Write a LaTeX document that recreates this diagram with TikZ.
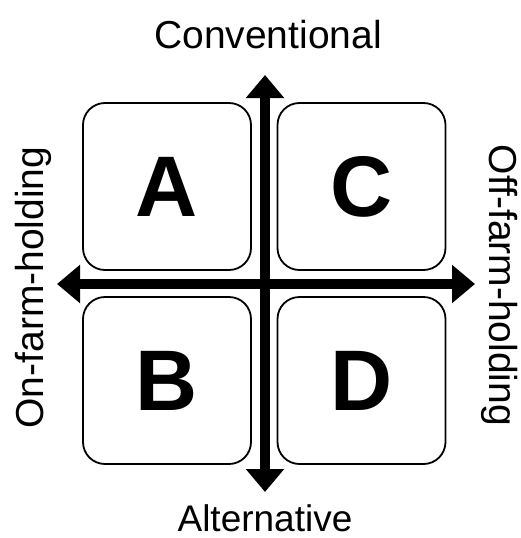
\documentclass[tikz,border=0pt]{standalone}
\usepackage{fontspec}
\setmainfont{Liberation Sans}
\usetikzlibrary{arrows.meta}

\tikzset{
  quadbox/.style={draw, line width=1.8pt, rounded corners=22pt, minimum width=168pt,
    minimum height=167pt, inner sep=0pt, font=\fontsize{86}{86}\selectfont\bfseries},
  axisarrow/.style={line width=10pt, {Triangle[length=23pt,width=37pt]}-{Triangle[length=23pt,width=37pt]}},
  axislabel/.style={font=\fontsize{39}{39}\selectfont, inner sep=0pt, anchor=base}
}

\begin{document}
\begin{tikzpicture}[x=1pt,y=-1pt]

\useasboundingbox (0,0) rectangle (520,538);

% the four quadrants
\node[quadbox] (boxA) at (167,186.5) {A};
\node[quadbox] (boxC) at (361.5,186.5) {C};
\node[quadbox] (boxB) at (167,380.5) {B};
\node[quadbox] (boxD) at (361.5,380.5) {D};

% axes
\coordinate (top) at (265,75);
\coordinate (bottom) at (265,492);
\coordinate (left) at (57,284);
\coordinate (right) at (475,284);
\draw[axisarrow] (bottom) -- (top);
\draw[axisarrow] (left) -- (right);

\node[axislabel] (conv) at (268,48) {Conventional};
\node[axislabel, font=\fontsize{37}{37}\selectfont] (alt) at (265,531) {Alternative};
\node[axislabel, rotate=90] (onfarm) at (43,287.5) {On-farm-holding};
\node[axislabel, rotate=-90] (offfarm) at (489,285.5) {Off-farm-holding};

\end{tikzpicture}
\end{document}
